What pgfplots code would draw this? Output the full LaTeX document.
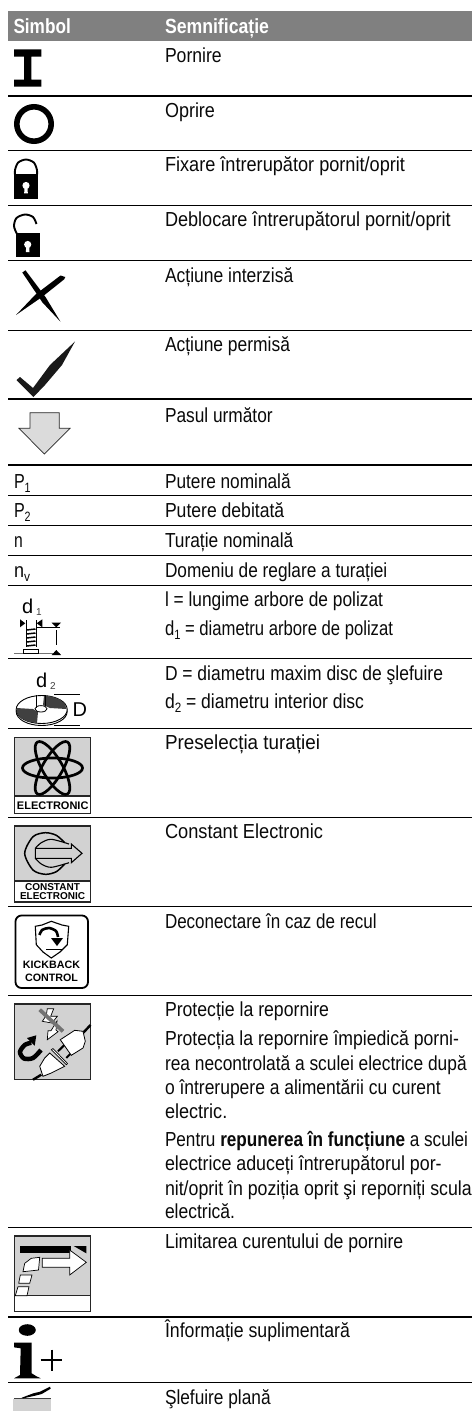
\documentclass[border=0pt]{standalone}
\usepackage{fontspec}
\usepackage{graphicx}
\usepackage{pgfplots}
\pgfplotsset{compat=1.18}
\setmainfont{Liberation Sans}
\newfontfamily\hv{Liberation Sans}
\definecolor{hdr}{HTML}{808080}
\definecolor{box}{HTML}{D2D2D2}
\definecolor{txt}{HTML}{0A0A0A}
\newcommand\T[4]{\node[anchor=base west,inner sep=0pt,outer sep=0pt,text=txt,font=\fontsize{20.3}{22}\selectfont] at (axis cs:#1,#2) {\resizebox{#3pt}{\height}{#4}};}
\newcommand\Hd[4]{\node[anchor=base west,inner sep=0pt,outer sep=0pt,text=white,font=\fontsize{20.5}{22}\selectfont\bfseries] at (axis cs:#1,#2) {\resizebox{#3pt}{\height}{#4}};}
\newcommand\Lab[4]{\node[inner sep=0pt,outer sep=0pt,anchor=base,text=black,font=\hv\bfseries\fontsize{#3}{#3}\selectfont] at (axis cs:#1,#2) {#4};}
\newcommand\sub[1]{\raisebox{-4.6pt}{\fontsize{13.5}{13.5}\selectfont #1}}
\newcommand\poly[2]{\addplot[#1] coordinates {#2} --cycle;}
\newcommand\lin[2]{\addplot[#1] coordinates {#2};}
\begin{document}
\begin{tikzpicture}
\begin{axis}[scale only axis,width=472pt,height=1411pt,xmin=0,xmax=472,ymin=0,ymax=1411,y dir=reverse,
  axis lines=none,enlargelimits=false,clip=false]
% page
\poly{fill=white,draw=none}{(0,0)(472,0)(472,1411)(0,1411)}
% header
\poly{fill=hdr,draw=none}{(8,11)(472,11)(472,41)(8,41)}
% rules
\lin{black,line width=1.1pt}{(8,96)(472,96)}
\lin{black,line width=1.1pt}{(8,150.3)(472,150.3)}
\lin{black,line width=1.1pt}{(8,205.5)(472,205.5)}
\lin{black,line width=1.1pt}{(8,260.5)(472,260.5)}
\lin{black,line width=1.1pt}{(8,330.3)(472,330.3)}
\lin{black,line width=1.1pt}{(8,399)(472,399)}
\lin{black,line width=1.1pt}{(8,465)(472,465)}
\lin{black,line width=1.1pt}{(8,495.5)(472,495.5)}
\lin{black,line width=1.1pt}{(8,525.5)(472,525.5)}
\lin{black,line width=1.1pt}{(8,555.5)(472,555.5)}
\lin{black,line width=1.1pt}{(8,585.2)(472,585.2)}
\lin{black,line width=1.1pt}{(8,658.3)(472,658.3)}
\lin{black,line width=1.1pt}{(8,728.3)(472,728.3)}
\lin{black,line width=1.1pt}{(8,817.3)(472,817.3)}
\lin{black,line width=1.1pt}{(8,906.7)(472,906.7)}
\lin{black,line width=1.1pt}{(8,995.3)(472,995.3)}
\lin{black,line width=1.1pt}{(8,1227.3)(472,1227.3)}
\lin{black,line width=1.1pt}{(8,1317)(472,1317)}
\lin{black,line width=1.1pt}{(8,1382.3)(472,1382.3)}
% header text
\Hd{13.5}{33.3}{57.3}{Simbol}
\Hd{165}{33.3}{104}{Semnificație}
% text column
\T{165}{62.7}{56.7}{Pornire}
\T{165}{117.7}{50}{Oprire}
\T{165}{171.7}{240}{Fixare întrerupător pornit/oprit}
\T{165}{226.7}{285.7}{Deblocare întrerupătorul pornit/oprit}
\T{165}{282}{128.3}{Acțiune interzisă}
\T{165}{351.7}{125}{Acțiune permisă}
\T{165}{422}{107.7}{Pasul următor}
\T{165}{488}{125.7}{Putere nominală}
\T{165}{517.3}{119.3}{Putere debitată}
\T{165}{547.3}{128.3}{Turație nominală}
\T{165}{577.3}{222.3}{Domeniu de reglare a turației}
\T{165}{606.7}{218}{l = lungime arbore de polizat}
\T{165}{635}{228}{d\sub{1} = diametru arbore de polizat}
\T{165}{680}{278}{D = diametru maxim disc de şlefuire}
\T{165}{708}{199}{d\sub{2} = diametru interior disc}
\T{165}{749}{155}{Preselecția turației}
\T{165}{838.7}{158}{Constant Electronic}
\T{165}{928}{211.7}{Deconectare în caz de recul}
\T{165}{1016.7}{164}{Protecție la repornire}
\T{165}{1045}{294}{Protecția la repornire împiedică porni-}
\T{165}{1070}{301.7}{rea necontrolată a sculei electrice după}
\T{165}{1094}{275.7}{o întrerupere a alimentării cu curent}
\T{165}{1118}{62.3}{electric.}
\T{165}{1146.7}{303}{Pentru \textbf{repunerea în funcțiune} a sculei}
\T{165}{1170.7}{276.7}{electrice aduceți întrerupătorul por-}
\T{165}{1195}{306.7}{nit/oprit în poziția oprit şi reporniți scula}
\T{165}{1218}{70}{electrică.}
\T{165}{1248}{238.3}{Limitarea curentului de pornire}
\T{165}{1337}{185}{Înformație suplimentară}
\T{165}{1404}{105.7}{Şlefuire plană}
% left symbols text
\T{14}{488}{16.7}{P\sub{1}}
\T{14}{517.3}{16.7}{P\sub{2}}
\T{14}{547.3}{8.7}{n}
\T{14}{577.3}{16}{n\sub{v}}
% I
\poly{fill=black,draw=none}{(14,49.3)(41.3,49.3)(41.3,56.7)(31.3,56.7)(31.3,79.5)(41.3,79.5)(41.3,86.7)(14,86.7)(14,79.5)(24,79.5)(24,56.7)(14,56.7)}
% O
\draw[black,line width=5.6pt] (axis cs:34,124) circle [radius=17.2pt];
% closed lock
\lin{black,line width=1.9pt,smooth}{(15,175)(15,170)(18.2,162.5)(26,159.5)(33.8,162.5)(37,170)(37,175)}
\poly{fill=black,draw=none}{(14,174)(38,174)(38,199.3)(14,199.3)}
\draw[fill=white,draw=none] (axis cs:26,185.5) circle [radius=3.6pt];
\poly{fill=white,draw=none}{(24.5,186)(27.5,186)(27.8,193.3)(24.2,193.3)}
% open lock
\lin{black,line width=1.9pt,smooth}{(16.7,233.5)(14,226)(16.5,218)(25,214.5)(33,217)(36.5,224)}
\poly{fill=black,draw=none}{(16,233.3)(40,233.3)(40,256.7)(16,256.7)}
\draw[fill=white,draw=none] (axis cs:27.7,244.5) circle [radius=3.6pt];
\poly{fill=white,draw=none}{(26.2,245)(29.2,245)(29.5,252)(25.9,252)}
% X
\poly{fill=black,draw=none}{(22.3,272.5)(25.5,270.3)(45.5,297)(60.5,321.7)(42.5,302.5)}
\poly{fill=black,draw=none}{(65.3,277)(64,279.5)(42,297)(16,315)(35.5,294.5)(60.5,275.5)}
% check
\poly{fill=black!90,draw=none}{(16.5,380)(20,377)(33,388)(50,365)(75,341.5)(62,365)(45,385)(33.5,397)}
% arrow
\poly{fill=black!14,draw=black!85,line width=0.7pt}{(30,412.7)(59.3,412.7)(59.3,428.3)(70,428.3)(44.3,454)(19,428.3)(30,428.3)}
% d1 icon
\node[anchor=base west,inner sep=0pt,font=\hv\fontsize{20}{20}\selectfont] at (axis cs:22,613.3) {d};
\node[anchor=base west,inner sep=0pt,text=black!75,font=\hv\fontsize{10}{10}\selectfont] at (axis cs:36,615) {1};
\poly{fill=black,draw=none}{(20,619.3)(25.3,623.3)(20,627.3)}
\poly{fill=black,draw=none}{(42.3,619.3)(36.7,623.3)(42.3,627.3)}
\lin{black,line width=0.7pt}{(26,620)(26,647)}
\lin{black,line width=0.7pt}{(36,620)(36,647)}
\lin{black,line width=0.7pt}{(36,627.7)(60,627.7)}
\lin{black!55,line width=0.7pt}{(14,653.3)(60,653.3)}
\lin{black,line width=1.5pt}{(26.5,630)(35.5,629)}
\lin{black,line width=1.5pt}{(26.5,634)(35.5,633)}
\lin{black,line width=1.5pt}{(26.5,638)(35.5,637)}
\lin{black,line width=1.5pt}{(26.5,642)(35.5,641)}
\lin{black,line width=1.5pt}{(26.5,646)(35.5,645)}
\poly{fill=white,draw=black,line width=0.7pt}{(23.3,649)(38.3,649)(38.3,653.3)(23.3,653.3)}
\poly{fill=black,draw=none}{(51.7,622.7)(61,622.7)(56.3,627.3)}
\lin{black,line width=1.3pt}{(56.3,630)(56.3,645)}
\poly{fill=black,draw=none}{(51.7,655)(61,655)(56.3,650)}
% d2 icon
\node[anchor=base west,inner sep=0pt,font=\hv\fontsize{20}{20}\selectfont] at (axis cs:36,687.3) {d};
\node[anchor=base west,inner sep=0pt,text=black!75,font=\hv\fontsize{10}{10}\selectfont] at (axis cs:50,689) {2};
\draw[black,line width=0.9pt,fill=white] (axis cs:41.7,711.5) ellipse [x radius=25.5pt,y radius=14pt];
\draw[black,line width=0.9pt,fill=white] (axis cs:41.7,709.5) ellipse [x radius=25.5pt,y radius=14pt];
\poly{fill=black!75,draw=none}{(43,705)(44,696)(52,696.5)(60,699.5)(65,704)(66.5,709)(50,708)}
\poly{fill=black!75,draw=none}{(38,712)(37,723)(28,721.5)(20,717.5)(16.5,712)(16.5,708)(33,709)}
\draw[black,line width=0.8pt,fill=white] (axis cs:41,708.8) ellipse [x radius=6pt,y radius=3.2pt];
\lin{black,line width=0.7pt}{(36.7,695)(36.7,708)}
\lin{black,line width=0.7pt}{(45,695)(45,706)}
\lin{black,line width=0.7pt}{(54,694.3)(80,694.3)}
\lin{black,line width=0.7pt}{(54,725.3)(80,725.3)}
\node[anchor=base west,inner sep=0pt,font=\hv\fontsize{20}{20}\selectfont] at (axis cs:72.5,716) {D};
% electronic
\poly{fill=white,draw=black!85,line width=1.2pt}{(14.3,737.3)(90.7,737.3)(90.7,813.7)(14.3,813.7)}
\poly{fill=box,draw=black!85,line width=1.2pt}{(14.3,737.3)(90.7,737.3)(90.7,796)(14.3,796)}
\draw[black,line width=2.7pt] (axis cs:52.5,768) ellipse [x radius=30pt,y radius=10pt];
\draw[black,line width=2.7pt,rotate around={60:(axis cs:52.5,768)}] (axis cs:52.5,768) ellipse [x radius=30pt,y radius=10pt];
\draw[black,line width=2.7pt,rotate around={-60:(axis cs:52.5,768)}] (axis cs:52.5,768) ellipse [x radius=30pt,y radius=10pt];
\Lab{52.7}{809.5}{11}{ELECTRONIC}
% constant electronic
\poly{fill=white,draw=black!85,line width=1.2pt}{(14.3,826)(90.7,826)(90.7,902)(14.3,902)}
\poly{fill=box,draw=black!85,line width=1.2pt}{(14.3,826)(90.7,826)(90.7,881)(14.3,881)}
\lin{black,line width=1.5pt,smooth}{(64.7,842.7)(56.3,835.3)(45.3,832.7)(33,836.7)(24.7,853.3)(33,870)(45.3,874.3)(56.3,871.7)(64.7,864)}
\lin{black,line width=1.1pt,smooth}{(69,844)(51.3,839.3)(41.3,842.7)(35.3,848.3)}
\lin{black,line width=1.1pt,smooth}{(35.3,858.3)(41.3,864)(51.3,867.3)(69,862.7)}
\poly{fill=box,draw=black,line width=1.1pt}{(35.3,848.3)(71.3,848.3)(71.3,844)(82,853.3)(71.3,862.7)(71.3,858.3)(35.3,858.3)}
\Lab{52.5}{890}{10}{CONSTANT}
\Lab{52.5}{899.8}{10}{ELECTRONIC}
% kickback
\draw[black,line width=1.8pt,rounded corners=6pt] (axis cs:15.5,915.5) rectangle (axis cs:88,988);
\poly{fill=white,draw=black,line width=1.1pt}{(51.3,921.3)(62,925)(68.7,926.3)(67.3,944.7)(60,952)(51.3,958)(43,952)(36.3,944.7)(35.3,926.3)(42,925)}
\lin{black,line width=2.6pt,smooth}{(39.5,935)(42,930)(49,928)(56,931)(58,937)}
\poly{fill=black,draw=none}{(51,938)(63,938)(57,946)}
\lin{black,line width=1.8pt}{(46.3,949.5)(63,949.5)}
\Lab{51.5}{968.7}{10.7}{KICKBACK}
\Lab{51.5}{981.3}{10.7}{CONTROL}
% plug
\poly{fill=box,draw=black!85,line width=1.2pt}{(14.3,1004)(90.7,1004)(90.7,1079.7)(14.3,1079.7)}
\poly{fill=white,draw=black,line width=0.7pt}{(47.3,1008.7)(53.7,1008.7)(50.7,1016.3)(57.3,1016.3)(52,1023)(42.3,1021.3)(46.3,1015.3)}
\poly{fill=white,draw=black,line width=0.7pt}{(48,1030.7)(51,1030.7)(57,1021)(56,1030)(58,1031.7)(47.3,1039.7)}
\lin{black!55,line width=3.8pt}{(39.7,1009.7)(63,1031.3)}
\lin{black,line width=4.5pt,smooth}{(31.3,1042.7)(24.7,1045)(20,1052)(24,1058.5)(33,1058)(41,1050)}
\poly{fill=black,draw=none}{(36.3,1035.3)(27,1038)(34.7,1045.7)}
\lin{black,line width=2.4pt}{(83,1033)(90.5,1025)}
\lin{black,line width=2.4pt}{(41.3,1074.7)(33,1079.7)}
\lin{black,line width=2pt}{(58,1051.3)(64.7,1044.7)}
\lin{black,line width=2pt}{(66.3,1058)(71.3,1053)}
\poly{fill=white,draw=black,line width=0.8pt}{(60.3,1039.7)(74.7,1030.3)(83,1031.3)(85.3,1041.3)(83,1048)(71.3,1055.3)}
\poly{fill=white,draw=black,line width=0.8pt}{(49.7,1053)(64.7,1066.3)(51.3,1073)(43,1076.3)(39.7,1066.3)(44.7,1058)}
\poly{fill=white,draw=black,line width=0.7pt}{(51.3,1049.7)(53,1048.5)(67.5,1063.5)(66.3,1064.7)}
% limit
\poly{fill=white,draw=black!85,line width=1.2pt}{(14.3,1236)(90.7,1236)(90.7,1311.7)(14.3,1311.7)}
\poly{fill=box,draw=black!85,line width=1.2pt}{(14.3,1236)(90.7,1236)(90.7,1295.7)(14.3,1295.7)}
\poly{fill=black,draw=none}{(19.7,1246)(71.3,1246)(71.3,1253.3)(19.7,1253.3)}
\poly{fill=black,draw=none}{(73.7,1246)(86.3,1246)(86.3,1253.3)}
\poly{fill=white,draw=black,line width=0.7pt}{(42.3,1258.3)(69.7,1258.3)(69.7,1250)(86.3,1262.3)(69.7,1275)(69.7,1267.3)(42.3,1267.3)}
\poly{fill=white,draw=black,line width=0.7pt}{(39.7,1257.3)(38.5,1270)(23,1271.7)(24.7,1263.3)(31.3,1258.3)}
\poly{fill=white,draw=black,line width=0.7pt}{(20.3,1275)(32,1275)(29.7,1283.3)(18.7,1283.3)}
\poly{fill=white,draw=black,line width=0.7pt}{(18,1286.7)(29,1286.7)(27,1295.7)(15.3,1295.7)}
% i+
\draw[fill=black,draw=none] (axis cs:27.3,1330) ellipse [x radius=8.5pt,y radius=5.8pt];
\poly{fill=black,draw=none}{(14,1342.7)(31.7,1342.7)(31.7,1373.3)(36,1376)(40.7,1378.3)(14,1378.3)(20,1375)(20.7,1348.3)(14,1347.3)}
\lin{black,line width=2.2pt}{(40.7,1360)(62.3,1360)}
\lin{black,line width=2.2pt}{(51.7,1349.5)(51.7,1370.7)}
% grinding
\poly{fill=box,draw=none}{(12.7,1399)(51,1399)(51,1411)(12.7,1411)}
\lin{black!75,line width=0.9pt}{(14,1398.3)(51,1398.3)}
\poly{fill=black,draw=none}{(21.7,1397.7)(33.3,1393.3)(40,1391.7)(50,1386.7)(50.7,1388.7)(41.7,1394)(35,1395.7)(23.3,1398.3)}
\end{axis}
\end{tikzpicture}
\end{document}
